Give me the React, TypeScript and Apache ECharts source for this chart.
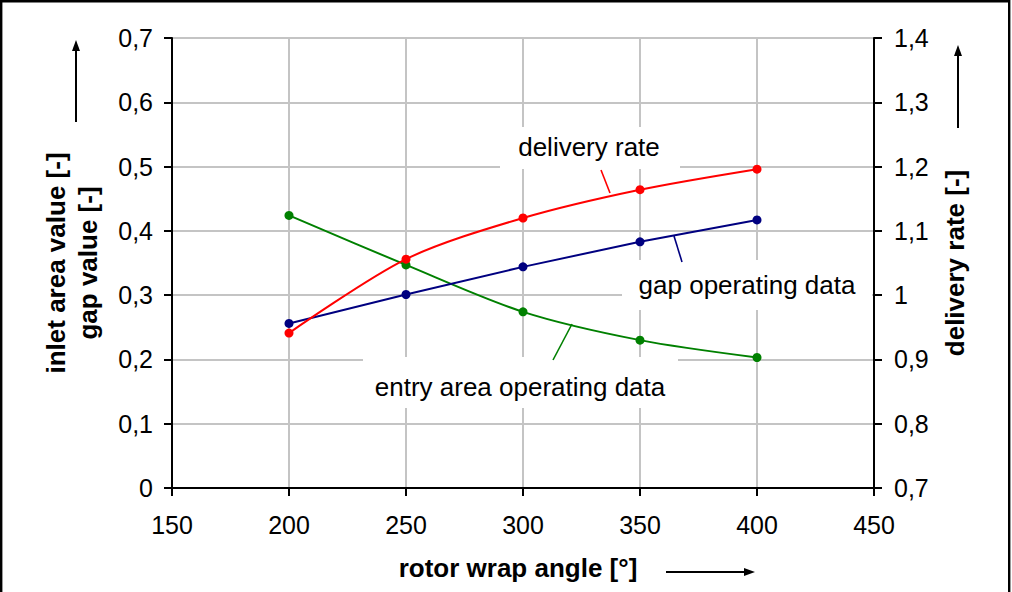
import React, { useEffect, useRef } from "react";
import * as echarts from "echarts";

const angles = [200, 250, 300, 350, 400];
const deliveryRate = [0.941, 1.056, 1.12, 1.164, 1.196];
const gapData = [0.256, 0.301, 0.344, 0.383, 0.417];
const entryArea = [0.424, 0.347, 0.274, 0.23, 0.203];

const xTitle = "rotor wrap angle [°]";
const leftTitle1 = "inlet area value [-]";
const leftTitle2 = "gap value [-]";
const rightTitle = "delivery rate [-]";
const labelDelivery = "delivery rate";
const labelGap = "gap operating data";
const labelEntry = "entry area operating data";

const FONT = "'Liberation Sans', Arial, Helvetica, sans-serif";

const fmt = (v: number) => String(Math.round(v * 10) / 10).replace(".", ",");

const pairs = (ys: number[]) => angles.map((a, i) => [a, ys[i]]);

export default function App() {
  const ref = useRef<HTMLDivElement>(null);
  useEffect(() => {
    const chart = echarts.init(ref.current!, null, { renderer: "svg" });
    const axisLine = { show: true, lineStyle: { color: "#000", width: 2 } };
    const axisTick = { show: true, inside: false, length: 8, lineStyle: { color: "#000", width: 2 } };
    const grey = { color: "#c4c4c4", width: 2 };
    const txt = (text: string, x: number, y: number, opts: any = {}) => ({
      type: "text",
      x,
      y,
      z: 20,
      rotation: opts.rotation || 0,
      style: {
        text,
        x: 0,
        y: 0,
        fill: "#000",
        fontSize: opts.fontSize || 26,
        fontWeight: opts.bold ? "bold" : "normal",
        fontFamily: FONT,
        textAlign: "center",
        textVerticalAlign: "middle",
      },
    });
    const box = (x: number, y: number, w: number, h: number) => ({
      type: "rect",
      z: 15,
      shape: { x, y, width: w, height: h },
      style: { fill: "#fff", stroke: null },
    });
    const seg = (x1: number, y1: number, x2: number, y2: number, color: string, w = 1.6) => ({
      type: "line",
      z: 20,
      shape: { x1, y1, x2, y2 },
      style: { stroke: color, lineWidth: w },
    });
    const head = (pts: number[][]) => ({
      type: "polygon",
      z: 20,
      shape: { points: pts },
      style: { fill: "#000" },
    });
    const option: any = {
      animation: false,
      backgroundColor: "#fff",
      grid: { left: 172, right: 138, top: 38, bottom: 104, containLabel: false },
      xAxis: {
        type: "value",
        min: 150,
        max: 450,
        interval: 50,
        axisLine: { ...axisLine, onZero: false },
        axisTick,
        axisLabel: { show: true, margin: 24, fontSize: 25, color: "#000", fontFamily: FONT, showMinLabel: true, showMaxLabel: true },
        splitLine: { show: true, lineStyle: grey },
      },
      yAxis: [
        {
          type: "value",
          min: 0,
          max: 0.7,
          interval: 0.1,
          position: "left",
          axisLine,
          axisTick,
          axisLabel: { margin: 19, fontSize: 25, color: "#000", fontFamily: FONT, formatter: fmt },
          splitLine: { show: true, lineStyle: grey },
        },
        {
          type: "value",
          min: 0.7,
          max: 1.4,
          interval: 0.1,
          position: "right",
          axisLine,
          axisTick,
          axisLabel: { margin: 20, fontSize: 25, color: "#000", fontFamily: FONT, formatter: fmt },
          splitLine: { show: false },
        },
      ],
      series: [
        {
          type: "line",
          name: "entry area operating data",
          yAxisIndex: 0,
          data: pairs(entryArea),
          smooth: 0.3,
          symbol: "circle",
          symbolSize: 9,
          lineStyle: { color: "#008000", width: 2 },
          itemStyle: { color: "#008000" },
        },
        {
          type: "line",
          name: "gap operating data",
          yAxisIndex: 0,
          data: pairs(gapData),
          smooth: false,
          symbol: "circle",
          symbolSize: 9,
          lineStyle: { color: "#000080", width: 2 },
          itemStyle: { color: "#000080" },
        },
        {
          type: "line",
          name: "delivery rate",
          yAxisIndex: 1,
          data: pairs(deliveryRate),
          smooth: 0.3,
          symbol: "circle",
          symbolSize: 9,
          lineStyle: { color: "#ff0000", width: 2 },
          itemStyle: { color: "#ff0000" },
        },
      ],
      graphic: [
        {
          type: "rect",
          z: 30,
          shape: { x: 1.2, y: 1.2, width: 1008, height: 640 },
          style: { fill: null, stroke: "#000", lineWidth: 2.4 },
        },
        box(500, 127, 180, 42),
        box(622, 260, 250, 50),
        box(363, 357, 315, 51),
        txt(labelDelivery, 589, 147),
        txt(labelGap, 747, 285),
        txt(labelEntry, 520, 387),
        seg(601, 170, 610, 193, "#ff0000"),
        seg(674, 236, 682, 262, "#000080"),
        seg(572, 324, 553, 360, "#008000"),
        txt(leftTitle1, 56, 263, { bold: true, rotation: Math.PI / 2 }),
        txt(leftTitle2, 88, 263, { bold: true, rotation: Math.PI / 2 }),
        txt(rightTitle, 955, 263, { bold: true, rotation: Math.PI / 2 }),
        txt(xTitle, 518, 568, { bold: true }),
        seg(76, 122, 76, 48, "#000", 2),
        head([[76, 40], [72, 51], [80, 51]]),
        seg(958, 128, 958, 53, "#000", 2),
        head([[958, 45], [954, 56], [962, 56]]),
        seg(666, 572, 746, 572, "#000", 2),
        head([[755, 572], [744, 568], [744, 576]]),
      ],
    };
    chart.setOption(option);
    return () => chart.dispose();
  }, []);
  return (
    <div
      ref={ref}
      style={{ position: "fixed", left: 0, top: 0, width: 1012, height: 592, background: "#fff" }}
    />
  );
}
